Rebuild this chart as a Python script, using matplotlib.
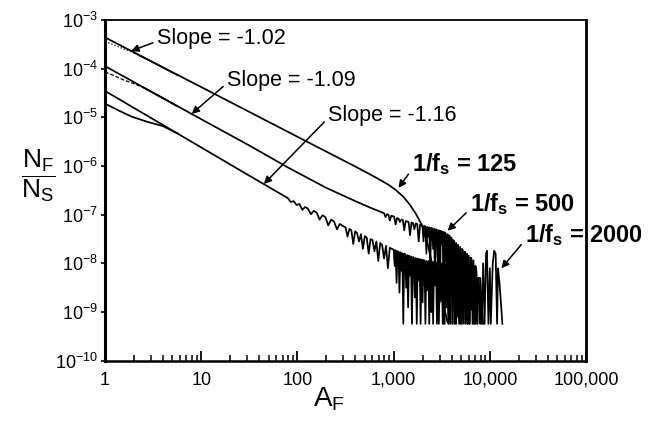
import matplotlib

matplotlib.use('Agg')
import numpy as np
import matplotlib.pyplot as plt
from matplotlib.ticker import FixedLocator, FixedFormatter, LogLocator, NullFormatter

plt.rcParams['font.family'] = ['Liberation Sans', 'DejaVu Sans']
plt.rcParams['mathtext.fontset'] = 'custom'
plt.rcParams['mathtext.rm'] = 'Liberation Sans'
plt.rcParams['mathtext.it'] = 'Liberation Sans'
plt.rcParams['mathtext.bf'] = 'Liberation Sans:bold'
plt.rcParams['axes.unicode_minus'] = False

# values, stored as log10(A_F) and log10(N_F/N_S)
xtick_vals = [1, 10, 100, 1000, 10000, 100000]
xtick_labels = ['1', '10', '100', '1,000', '10,000', '100,000']
ytick_vals = [1e-10, 1e-9, 1e-8, 1e-7, 1e-6, 1e-5, 1e-4, 1e-3]

# straight power-law fits (drawn near A=1 where data bends away)
fit_la = [0.0, 0.75]
fit_125 = [-3.36, -4.13]
fit_500 = [-3.95, -4.77]
fit_2000 = [-4.46, -5.33]
slope_labels = ['Slope = -1.02', 'Slope = -1.09', 'Slope = -1.16']

# data at small A (before it joins the fit)
start_la_125 = [0.0, 0.1, 0.2, 0.3]
start_ln_125 = [-3.45, -3.52, -3.60, -3.67]
start_la_500 = [0.0, 0.1, 0.2, 0.3, 0.4]
start_ln_500 = [-4.07, -4.15, -4.24, -4.31, -4.39]
start_la_2000 = [0.0, 0.14, 0.28, 0.45, 0.6, 0.75]
start_ln_2000 = [-4.72, -4.86, -4.99, -5.10, -5.18, -5.33]

# 1/fs = 125
la_125 = [0.3, 1.0, 1.5, 2.0, 2.6, 2.8, 2.95, 3.02, 3.10, 3.17, 3.23, 3.29,
          3.35, 3.42, 3.47, 3.52, 3.56]
ln_125 = [-3.67, -4.38, -4.89, -5.40, -6.01, -6.22, -6.39, -6.49, -6.63, -6.80,
          -6.98, -7.20, -7.57, -8.19, -8.55, -8.86, -9.21]

# 1/fs = 500
la_500 = [0.4, 1.0, 1.5, 1.9, 2.3, 2.6, 2.75,
          2.90, 2.915, 2.93, 2.945, 2.96, 2.975, 2.99, 3.005, 3.02, 3.035,
          3.05, 3.065, 3.08, 3.095, 3.11, 3.125, 3.14, 3.155, 3.17, 3.185,
          3.20, 3.215, 3.23, 3.245, 3.26, 3.275, 3.29,
          3.30, 3.31, 3.32, 3.33, 3.34, 3.35, 3.36, 3.37, 3.38, 3.39,
          3.40, 3.41, 3.42, 3.43, 3.44, 3.45, 3.46, 3.47, 3.48, 3.49,
          3.50, 3.51, 3.52, 3.53, 3.54, 3.55, 3.56, 3.57, 3.58, 3.59,
          3.60, 3.61, 3.62, 3.63, 3.64, 3.65, 3.66, 3.67, 3.68, 3.69,
          3.70, 3.71, 3.72, 3.73, 3.74, 3.75, 3.76, 3.77, 3.78, 3.79,
          3.80, 3.81, 3.82, 3.83, 3.84, 3.85, 3.86, 3.87, 3.88, 3.89,
          3.90, 3.91, 3.92, 3.93]
ln_500 = [-4.39, -5.04, -5.58, -6.03, -6.45, -6.72, -6.85,
          -6.97, -7.05, -6.99, -7.00, -7.12, -7.02, -7.03, -7.04, -7.20, -7.07,
          -7.08, -7.15, -7.10, -7.11, -7.32, -7.13, -7.14, -7.15, -7.42, -7.16,
          -7.17, -7.30, -7.18, -7.19, -7.55, -7.20, -7.21,
          -7.22, -7.55, -7.23, -7.24, -7.80, -7.25, -7.45, -7.26, -8.10, -7.27,
          -7.28, -7.70, -7.29, -8.40, -7.30, -7.31, -8.00, -7.32, -8.80, -7.33,
          -7.60, -7.35, -9.24, -7.36, -7.38, -8.30, -7.40, -9.24, -7.43, -8.50,
          -7.47, -9.24, -7.52, -7.55, -9.24, -7.58, -8.70, -7.62, -9.24, -7.66,
          -9.24, -7.70, -7.73, -9.24, -7.76, -8.90, -7.80, -9.24, -7.84, -9.24,
          -7.88, -7.91, -9.24, -7.94, -9.24, -8.05, -8.15, -9.24, -8.30, -8.50,
          -9.24, -8.70, -9.00, -9.24]

# 1/fs = 2000
la_2000 = [0.75, 1.0, 1.5,
           1.90, 1.93, 1.96, 1.99, 2.02, 2.05, 2.08, 2.11, 2.14, 2.17, 2.20,
           2.23, 2.26, 2.29, 2.32, 2.35, 2.38, 2.41, 2.44, 2.47,
           2.50, 2.52, 2.54, 2.56, 2.58, 2.60, 2.62, 2.64, 2.66, 2.68, 2.70,
           2.72, 2.74, 2.76, 2.78, 2.80, 2.82, 2.84, 2.86, 2.88, 2.90, 2.92,
           2.94, 2.96, 2.98,
           3.00, 3.01, 3.02, 3.03, 3.04, 3.05, 3.06, 3.07, 3.08, 3.09,
           3.10, 3.11, 3.12, 3.13, 3.14, 3.15, 3.16, 3.17, 3.18, 3.19,
           3.20, 3.21, 3.22, 3.23, 3.24, 3.25, 3.26, 3.27, 3.28, 3.29,
           3.30, 3.31, 3.32, 3.33, 3.34, 3.35, 3.36, 3.37, 3.38, 3.39,
           3.40, 3.41, 3.42, 3.43, 3.44, 3.45, 3.46, 3.47, 3.48, 3.49,
           3.50, 3.51, 3.52, 3.53, 3.54, 3.55, 3.56, 3.57, 3.58, 3.59,
           3.60, 3.61, 3.62, 3.63, 3.64, 3.65, 3.66, 3.67, 3.68, 3.69,
           3.70, 3.71, 3.72, 3.73, 3.74, 3.75, 3.76, 3.77, 3.78, 3.79,
           3.80, 3.81, 3.82, 3.83, 3.84, 3.85, 3.86, 3.87, 3.88,
           3.90, 3.915, 3.93, 3.945, 3.96, 3.97, 3.985, 4.00, 4.01, 4.03, 4.045,
           4.06, 4.075, 4.085, 4.10, 4.115, 4.13]
ln_2000 = [-5.33, -5.62, -6.20,
           -6.66, -6.74, -6.72, -6.80, -6.78, -6.90, -6.84, -6.88, -6.99, -6.92,
           -6.96, -7.10, -7.01, -7.05, -7.22, -7.10, -7.14, -7.30, -7.19, -7.23,
           -7.26, -7.45, -7.29, -7.32, -7.60, -7.34, -7.38, -7.55, -7.40, -7.70,
           -7.44, -7.47, -7.80, -7.50, -7.52, -7.75, -7.55, -7.95, -7.58, -7.62,
           -7.90, -7.64, -8.10, -7.68, -7.70,
           -7.72, -8.05, -7.73, -8.40, -7.75, -7.76, -8.60, -7.77, -8.15, -7.79,
           -9.24, -7.80, -7.81, -8.50, -7.83, -8.90, -7.84, -8.25, -7.86, -9.24,
           -7.87, -7.88, -8.70, -7.89, -9.24, -7.90, -8.35, -7.91, -9.24, -7.92,
           -8.80, -7.93, -7.94, -9.24, -7.95, -8.55, -7.95, -9.24, -7.96, -9.00,
           -7.97, -9.24, -7.97, -8.45, -7.98, -9.24, -7.98, -9.24, -7.99, -8.75,
           -8.00, -9.24, -8.01, -9.24, -8.02, -8.90, -8.03, -9.24, -8.04, -9.24,
           -8.05, -8.60, -8.05, -9.24, -8.06, -9.24, -8.07, -9.10, -8.08, -9.24,
           -8.09, -9.24, -8.10, -8.80, -8.11, -9.24, -8.12, -9.24, -8.13, -9.24,
           -8.15, -8.95, -8.17, -9.24, -8.19, -9.24, -8.22, -9.24, -8.30,
           -8.30, -9.24, -8.00, -9.24, -7.80, -7.74, -9.24, -8.10, -9.24, -8.00,
           -7.74, -7.80, -9.24, -8.10, -8.40, -8.80, -9.24]


def p10(v):
    return 10.0 ** np.array(v)


fig = plt.figure(figsize=(6.57, 4.23), dpi=100)
ax = fig.add_axes([0.160, 0.147, 0.732, 0.806])

lw = 1.25
for fit in (fit_125, fit_500, fit_2000):
    ax.plot(p10(fit_la), p10(fit), color='black', lw=lw)

ax.plot(p10(start_la_125), p10(start_ln_125), color='black', lw=0.9, ls=':')
ax.plot(p10(start_la_500), p10(start_ln_500), color='black', lw=0.9, ls=(0, (3, 1.5)))
ax.plot(p10(start_la_2000), p10(start_ln_2000), color='black', lw=lw)

ax.plot(p10(la_125), p10(ln_125), color='black', lw=lw)
ax.plot(p10(la_500), p10(ln_500), color='black', lw=lw)
ax.plot(p10(la_2000), p10(ln_2000), color='black', lw=lw)

ax.set_xscale('log')
ax.set_yscale('log')
ax.set_xlim(1, 1e5)
ax.set_ylim(1e-10, 1e-3)

ax.xaxis.set_major_locator(FixedLocator(xtick_vals))
ax.xaxis.set_major_formatter(FixedFormatter(xtick_labels))
ax.xaxis.set_minor_locator(LogLocator(base=10, subs=np.arange(2, 10)))
ax.xaxis.set_minor_formatter(NullFormatter())
ax.yaxis.set_major_locator(FixedLocator(ytick_vals))
ax.yaxis.set_minor_locator(FixedLocator([]))

ax.tick_params(axis='x', which='major', direction='in', length=7, width=1.3,
               labelsize=13, pad=8)
ax.tick_params(axis='x', which='minor', direction='in', length=4, width=1.1)
ax.tick_params(axis='y', which='major', direction='out', length=3, width=1.2,
               labelsize=13, pad=2)

ax.spines['left'].set_linewidth(2.2)
ax.spines['bottom'].set_linewidth(1.8)
ax.spines['right'].set_linewidth(2.0)
ax.spines['top'].set_linewidth(1.3)

fig.text(0.500, 0.040, r'$\mathrm{A_F}$', fontsize=20, ha='center', va='baseline')
fig.text(0.058, 0.585, r'$\dfrac{\mathrm{N_F}}{\mathrm{N_S}}$', fontsize=19,
         ha='center', va='center')

arrow = dict(arrowstyle='-|>', color='black', lw=1.1, mutation_scale=11,
             shrinkA=1, shrinkB=0)

# slope labels: arrow tip on the fit line, text at its place in the scan
slope_tips = [(10 ** 0.27, 10 ** -3.64), (10 ** 0.90, 10 ** -4.93),
              (10 ** 1.65, 10 ** -6.37)]
slope_text = [(157, 385), (227, 343), (328, 308)]
for lab, tip, pos in zip(slope_labels, slope_tips, slope_text):
    ax.annotate(lab, xy=tip, xycoords='data', xytext=pos,
                textcoords='figure pixels', fontsize=15.5, ha='left', va='center',
                arrowprops=dict(arrow, relpos=(0.0, 0.35)))

fs_labels = [r'$\mathbf{1/f_s}$ = 125', r'$\mathbf{1/f_s}$ = 500',
             r'$\mathbf{1/f_s}$ = 2000']
fs_tips = [(10 ** 3.05, 10 ** -6.45), (10 ** 3.56, 10 ** -7.33),
           (10 ** 4.12, 10 ** -8.10)]
fs_text = [(412, 259), (470, 219), (525, 188)]
for lab, tip, pos in zip(fs_labels, fs_tips, fs_text):
    ax.annotate(lab, xy=tip, xycoords='data', xytext=pos,
                textcoords='figure pixels', fontsize=17, fontweight='bold',
                ha='left', va='center', annotation_clip=False,
                arrowprops=dict(arrow, relpos=(0.0, 0.3)))

plt.savefig('out.png', dpi=100)
